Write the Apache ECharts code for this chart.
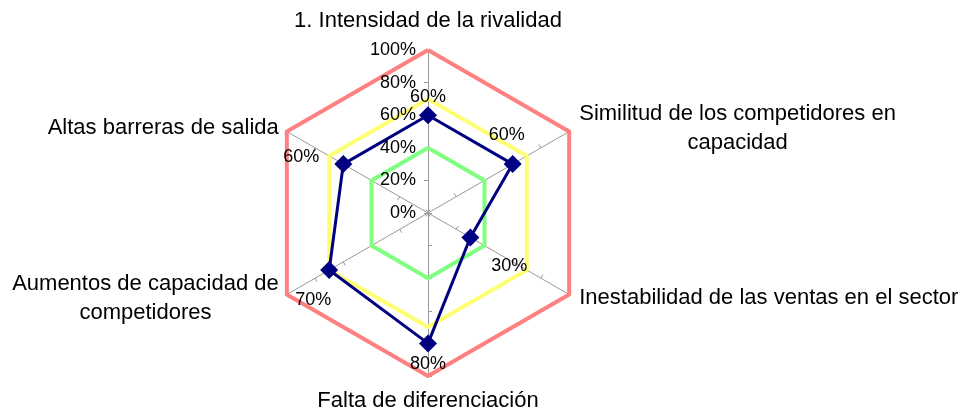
<!DOCTYPE html>
<html>
<head>
<meta charset="utf-8">
<script src="https://cdn.jsdelivr.net/npm/echarts@6/dist/echarts.min.js"></script>
<style>
html,body{margin:0;padding:0;background:#fff;}
#chart{width:963px;height:410px;}
</style>
</head>
<body>
<div id="chart"></div>
<script>
// categories in clockwise order, starting at the top
var indicators = [
  '1. Intensidad de la rivalidad',
  'Similitud de los competidores en\ncapacidad',
  'Inestabilidad de las ventas en el sector',
  'Falta de diferenciación',
  'Aumentos de capacidad de\ncompetidores',
  'Altas barreras de salida'
];
var empresa = [60, 60, 30, 80, 70, 60];
var nivelAlto = [100, 100, 100, 100, 100, 100];
var nivelMedio = [70, 70, 70, 70, 70, 70];
var nivelBajo = [40, 40, 40, 40, 40, 40];
var tickLabels = ['0%', '20%', '40%', '60%', '80%', '100%'];

// label offsets (px) for the value labels, same order as indicators
var labelOffsets = [[0, -18], [-6, -29], [39, 29], [0, 21], [-16, 30], [-42, -7]];
// which rich style each category name uses (top / right / bottom / left)
var nameSides = ['t', 'r', 'r', 'b', 'l', 'l'];

var CX = 428, CY = 213, R = 163;
var FONT = 'Liberation Sans';

// echarts radar goes counter-clockwise, so flip the order
var order = [0, 5, 4, 3, 2, 1];
function reorder(arr) {
  return order.map(function(i) { return arr[i]; });
}

function nameStyle(extra) {
  var s = { align: 'center', fontSize: 22, fontFamily: FONT, color: '#000', lineHeight: 29 };
  for (var k in extra) s[k] = extra[k];
  return s;
}

var myChart = echarts.init(document.getElementById('chart'));

var option = {
  animation: false,
  backgroundColor: '#fff',
  textStyle: { fontFamily: FONT },
  radar: {
    center: [CX, CY],
    radius: R,
    startAngle: 90,
    splitNumber: 5,
    shape: 'polygon',
    indicator: reorder(indicators).map(function(n) {
      return { name: n, min: 0, max: 100 };
    }),
    axisNameGap: 7,
    axisName: {
      color: '#000',
      fontSize: 22,
      fontFamily: FONT,
      formatter: function(name) {
        var side = nameSides[indicators.indexOf(name)] || 'b';
        return name.split('\n').map(function(s) { return '{' + side + '|' + s + '}'; }).join('\n');
      },
      rich: {
        t: nameStyle({ lineHeight: 45 }),
        r: nameStyle({ padding: [0, 0, 0, 4] }),
        l: nameStyle({ padding: [0, 2, 0, 0] }),
        b: nameStyle({ lineHeight: 35 })
      }
    },
    axisLine: { lineStyle: { color: '#999', width: 1 } },
    axisTick: { show: true, length: 4, lineStyle: { color: '#999' } },
    splitLine: { show: false },
    splitArea: { show: false }
  },
  polar: { center: [CX, CY], radius: R },
  angleAxis: { type: 'value', min: 0, max: 360, startAngle: 90, clockwise: true, show: false },
  radiusAxis: { type: 'value', min: 0, max: 100, show: false },
  grid: { left: CX, top: CY - R, height: R, width: 10 },
  xAxis: { type: 'value', show: false },
  yAxis: {
    type: 'category',
    data: tickLabels,
    boundaryGap: false,
    z: 10,
    axisLine: { show: false },
    axisTick: { show: false },
    splitLine: { show: false },
    axisLabel: { margin: 12, fontSize: 18, color: '#000', fontFamily: FONT }
  },
  series: [
    {
      type: 'radar',
      silent: true,
      symbol: 'none',
      data: [
        { value: reorder(nivelAlto), lineStyle: { color: '#ff8080', width: 4 } },
        { value: reorder(nivelMedio), lineStyle: { color: '#ffff73', width: 4 } },
        { value: reorder(nivelBajo), lineStyle: { color: '#80ff80', width: 4 } }
      ]
    },
    {
      type: 'radar',
      symbol: 'diamond',
      symbolSize: 18,
      data: [
        {
          value: reorder(empresa),
          lineStyle: { color: '#000080', width: 3 },
          itemStyle: { color: '#000080' }
        }
      ]
    },
    {
      type: 'scatter',
      coordinateSystem: 'polar',
      symbolSize: 0,
      silent: true,
      itemStyle: { color: '#000' },
      z: 10,
      data: empresa.map(function(v, i) {
        return { value: [v, i * 60], label: { offset: labelOffsets[i] } };
      }),
      label: {
        show: true,
        position: 'inside',
        fontSize: 18,
        fontFamily: FONT,
        color: '#000',
        textBorderWidth: 0,
        opacity: 1,
        formatter: function(p) { return p.value[0] + '%'; }
      }
    }
  ]
};

myChart.setOption(option);
</script>
</body>
</html>
